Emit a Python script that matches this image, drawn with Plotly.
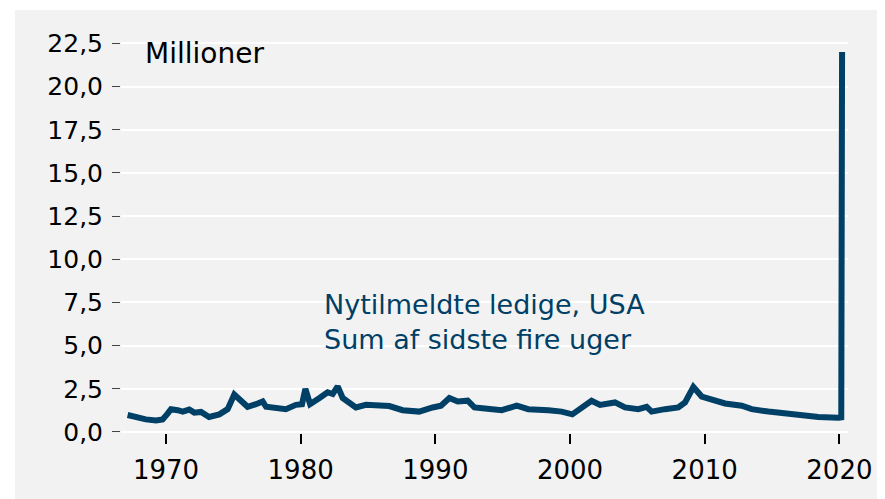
import plotly.graph_objects as go

# Hand-read values (4-week sum of initial jobless claims, millions)
years = [1967.15, 1967.77, 1968.5, 1969.26, 1969.75, 1970.12, 1970.37, 1970.87, 1971.24, 1971.73,
         1972.1, 1972.6, 1973.2, 1973.96, 1974.58, 1975.07, 1975.45, 1976.06, 1976.68, 1977.18,
         1977.43, 1978.17, 1978.9, 1979.65, 1980.1, 1980.35, 1980.7, 1981.4, 1982.0, 1982.38,
         1982.75, 1983.12, 1984.1, 1984.85, 1985.84, 1986.58, 1987.57, 1988.8, 1989.8, 1990.42,
         1991.04, 1991.66, 1992.4, 1992.9, 1993.5, 1994.93, 1996.04, 1996.9, 1998.4, 1999.38,
         2000.17, 2001.1, 2001.6, 2002.23, 2003.34, 2004.08, 2005.07, 2005.69, 2006.06, 2007.05,
         2008.04, 2008.54, 2009.16, 2009.78, 2010.52, 2011.51, 2012.75, 2013.49, 2014.73, 2015.97,
         2017.45, 2018.44, 2019.93, 2020.14, 2020.2]
claims = [0.98, 0.83, 0.73, 0.67, 0.73, 1.06, 1.32, 1.26, 1.18, 1.30,
          1.12, 1.16, 0.87, 1.02, 1.32, 2.17, 1.91, 1.46, 1.61, 1.77,
          1.46, 1.42, 1.32, 1.57, 1.61, 2.50, 1.61, 1.97, 2.30, 2.20,
          2.64, 1.97, 1.42, 1.57, 1.57, 1.50, 1.26, 1.18, 1.42, 1.52,
          1.97, 1.77, 1.81, 1.42, 1.38, 1.26, 1.52, 1.32, 1.26, 1.18,
          1.02, 1.52, 1.81, 1.57, 1.71, 1.42, 1.32, 1.46, 1.18, 1.32,
          1.42, 1.71, 2.60, 2.05, 1.85, 1.65, 1.52, 1.32, 1.18, 1.06,
          0.98, 0.87, 0.83, 0.85, 22.0]

y_ticks = [0, 2.5, 5, 7.5, 10, 12.5, 15, 17.5, 20, 22.5]
x_ticks = [1970, 1980, 1990, 2000, 2010, 2020]

BLUE = "#003f66"
GRAY = "#f2f2f2"
FONT = "DejaVu Sans"

fig = go.Figure()
fig.add_trace(go.Scatter(x=years, y=claims, mode="lines",
                         line=dict(color=BLUE, width=6), hoverinfo="skip"))

# page has an 8px body margin; coordinates below are figure pixels
W, H = 885, 499
L, R, T, B = 113, 45, 32, 74
pw, ph = W - L - R, H - T - B


def px(xp):
    return (xp - L) / pw


def py(yp):
    return (H - B - yp) / ph


fig.add_shape(type="rect", xref="paper", yref="paper", layer="below",
              x0=px(7), x1=px(W + 10), y0=py(H + 10), y1=py(2),
              fillcolor=GRAY, line=dict(width=0))

fig.update_layout(
    width=W, height=H,
    margin=dict(l=L, r=R, t=T, b=B),
    paper_bgcolor="white", plot_bgcolor="rgba(0,0,0,0)",
    separators=",.",
    showlegend=False,
    font=dict(family=FONT, color="black", size=25),
)
fig.update_xaxes(range=[1966.66, 2020.64], tickvals=x_ticks, showgrid=False,
                 zeroline=False, ticks="outside", ticklen=10, tickwidth=1.5,
                 tickcolor="black", ticklabelstandoff=4,
                 tickfont=dict(size=26, family=FONT), showline=False)
fig.update_yaxes(range=[-0.06, 22.7], tickvals=y_ticks, tickformat=".1f",
                 showgrid=True, gridcolor="white", gridwidth=2, zeroline=False,
                 ticks="outside", ticklen=8, tickwidth=1, tickcolor="#444",
                 ticklabelstandoff=4, tickfont=dict(size=25, family=FONT),
                 showline=False)

fig.add_annotation(text="Millioner", xref="paper", yref="paper",
                   x=px(135), y=py(45), xanchor="left", yanchor="middle",
                   showarrow=False, font=dict(size=28, color="black", family=FONT))
fig.add_annotation(text="Nytilmeldte ledige, USA<br>Sum af sidste fire uger",
                   xref="paper", yref="paper",
                   x=px(314), y=py(314), xanchor="left", yanchor="middle",
                   align="left", showarrow=False,
                   font=dict(size=27, color=BLUE, family=FONT))

fig.write_html("out.html")
